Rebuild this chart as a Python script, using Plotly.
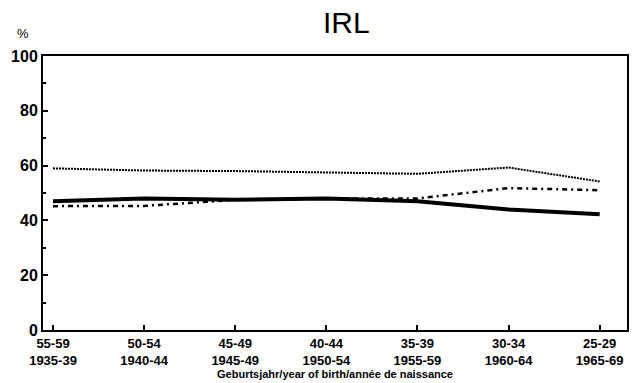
import plotly.graph_objects as go

# cohort labels (age group / year of birth)
age_groups = ['55-59', '50-54', '45-49', '40-44', '35-39', '30-34', '25-29']
birth_years = ['1935-39', '1940-44', '1945-49', '1950-54', '1955-59', '1960-64', '1965-69']

dotted_vals = [59, 58.2, 58, 57.5, 57, 59.3, 54.2]
dashdot_vals = [45.2, 45.3, 47.5, 48, 48, 51.8, 51]
solid_vals = [47, 48, 47.5, 48, 47, 44, 42.2]

x = list(range(len(age_groups)))
ticktext = [a + '<br>' + b for a, b in zip(age_groups, birth_years)]

fig = go.Figure()
fig.add_trace(go.Scatter(x=x, y=dotted_vals, mode='lines',
                         line=dict(color='black', width=2, dash='2px,1px')))
fig.add_trace(go.Scatter(x=x, y=dashdot_vals, mode='lines',
                         line=dict(color='black', width=2.5, dash='5px,4px,2px,4px')))
fig.add_trace(go.Scatter(x=x, y=solid_vals, mode='lines',
                         line=dict(color='black', width=4)))

font = 'Liberation Sans, Arial, sans-serif'

# plot area in pixels
L, R, T, B = 43, 9, 56, 53
plot_w = 636 - L - R
plot_h = 383 - T - B

fig.update_layout(
    width=636, height=383,
    paper_bgcolor='white', plot_bgcolor='white',
    showlegend=False,
    margin=dict(l=L, r=R, t=T, b=B),
    font=dict(family=font, color='black'),
    xaxis=dict(
        range=[-0.11, 6.3],
        tickvals=x, ticktext=ticktext,
        ticks='inside', ticklen=5, tickwidth=1.5, tickcolor='black',
        tickfont=dict(size=13, family=font, weight='bold'),
        showline=True, linecolor='black', linewidth=2, mirror=True,
        showgrid=False, zeroline=False, automargin=False,
        title=dict(text='Geburtsjahr/year of birth/année de naissance',
                   font=dict(size=11, weight='bold'), standoff=4),
    ),
    yaxis=dict(
        range=[0, 100],
        tickvals=[0, 20, 40, 60, 80, 100],
        ticks='inside', ticklen=5, tickwidth=1.5, tickcolor='black',
        minor=dict(tickvals=[10, 30, 50, 70, 90], ticks='inside', ticklen=3,
                   tickcolor='black'),
        tickfont=dict(size=16, family=font, weight='bold'),
        showline=True, linecolor='black', linewidth=2, mirror=True,
        showgrid=False, zeroline=False, automargin=False,
    ),
    annotations=[
        dict(text='IRL', x=(346 - L) / plot_w, y=(330 - 23) / plot_h,
             xref='paper', yref='paper', xanchor='center', yanchor='middle',
             showarrow=False, font=dict(size=30)),
        dict(text='%', x=(23 - L) / plot_w, y=(330 - 33) / plot_h,
             xref='paper', yref='paper', xanchor='center', yanchor='middle',
             showarrow=False, font=dict(size=13)),
    ],
)

fig.write_html("out.html", config={'displayModeBar': False},
               post_script="document.body.style.margin='0';")
